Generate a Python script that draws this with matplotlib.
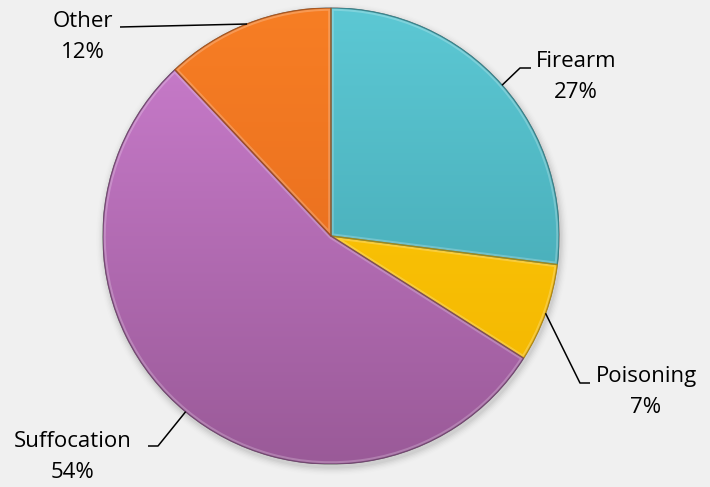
import numpy as np
import matplotlib
matplotlib.use("Agg")
import matplotlib.pyplot as plt
from matplotlib.patches import Circle, Wedge
import matplotlib.colors as mcolors

categories = ["Firearm", "Poisoning", "Suffocation", "Other"]
values = [27, 7, 54, 12]
pct_labels = ["27%", "7%", "54%", "12%"]

colors_top = ["#5CC8D4", "#FFCC0A", "#CC7ECF", "#F77E24"]
colors_bot = ["#3E9FAA", "#F2B400", "#9A5A98", "#E0661C"]
edge_cols = ["#2E7F88", "#B88800", "#6E3E6C", "#A84E12"]

W, H = 710, 487
fig = plt.figure(figsize=(W / 100, H / 100), dpi=100)
fig.patch.set_facecolor("#F0F0F0")

cx, cy, R = 331, 236, 228
ax = fig.add_axes([(cx - R) / W, (H - cy - R) / H, 2 * R / W, 2 * R / H])
ax.set_xlim(-1, 1)
ax.set_ylim(-1, 1)
ax.set_aspect("equal")
ax.axis("off")

# soft shadow
for i, a in enumerate(np.linspace(0.06, 0.01, 6)):
    ax.add_patch(Circle((0.006, -0.014), 1.0 + 0.006 * (i + 1), color="black",
                        alpha=a * 0.6, zorder=0, lw=0, clip_on=False))

wedges, _ = ax.pie(values, startangle=90, counterclock=False, radius=1,
                   colors=colors_top,
                   wedgeprops=dict(edgecolor="#666666", linewidth=0.8))

for w, ct, cb, ec in zip(wedges, colors_top, colors_bot, edge_cols):
    cmap = mcolors.LinearSegmentedColormap.from_list("g", [cb, ct])
    grad = np.linspace(0, 1, 256).reshape(-1, 1)
    im = ax.imshow(grad, extent=[-1, 1, -1, 1], origin="lower", cmap=cmap,
                   aspect="auto", zorder=1.5, interpolation="bicubic")
    im.set_clip_path(w)
    w2 = Wedge(w.center, w.r, w.theta1, w.theta2, fill=False,
               edgecolor="white", alpha=0.22, linewidth=4, zorder=1.8)
    ax.add_patch(w2)
    w2.set_clip_path(w)
    w3 = Wedge(w.center, w.r, w.theta1, w.theta2, fill=False,
               edgecolor=ec, alpha=0.8, linewidth=1.0, zorder=2)
    ax.add_patch(w3)

ax.set_xlim(-1, 1)
ax.set_ylim(-1, 1)

def px2d(px, py):
    return ((px - cx) / R, (cy - py) / R)

layout = {
    "Firearm": dict(text=(576, 77), elbow=[(520, 68), (531, 68)]),
    "Poisoning": dict(text=(646, 392), elbow=[(580, 383), (590, 383)]),
    "Suffocation": dict(text=(73, 457), elbow=[(158, 446), (148, 446)]),
    "Other": dict(text=(83, 37), elbow=[(120, 27), (120, 27)]),
}

font = "Open Sans"
for w, cat, pl in zip(wedges, categories, pct_labels):
    mid = np.deg2rad((w.theta1 + w.theta2) / 2)
    sx, sy = np.cos(mid), np.sin(mid)
    lay = layout[cat]
    pts = [(sx, sy)] + [px2d(*p) for p in lay["elbow"]]
    xs, ys = zip(*pts)
    ax.plot(xs, ys, color="black", lw=1.1, zorder=5, clip_on=False,
            solid_capstyle="butt")
    tx, ty = px2d(*lay["text"])
    ax.text(tx, ty, f"{cat}\n{pl}", ha="center", va="center", fontsize=16,
            family=font, color="black", linespacing=1.65, zorder=6,
            clip_on=False)

fig.savefig("out.png", dpi=100, facecolor=fig.get_facecolor())
